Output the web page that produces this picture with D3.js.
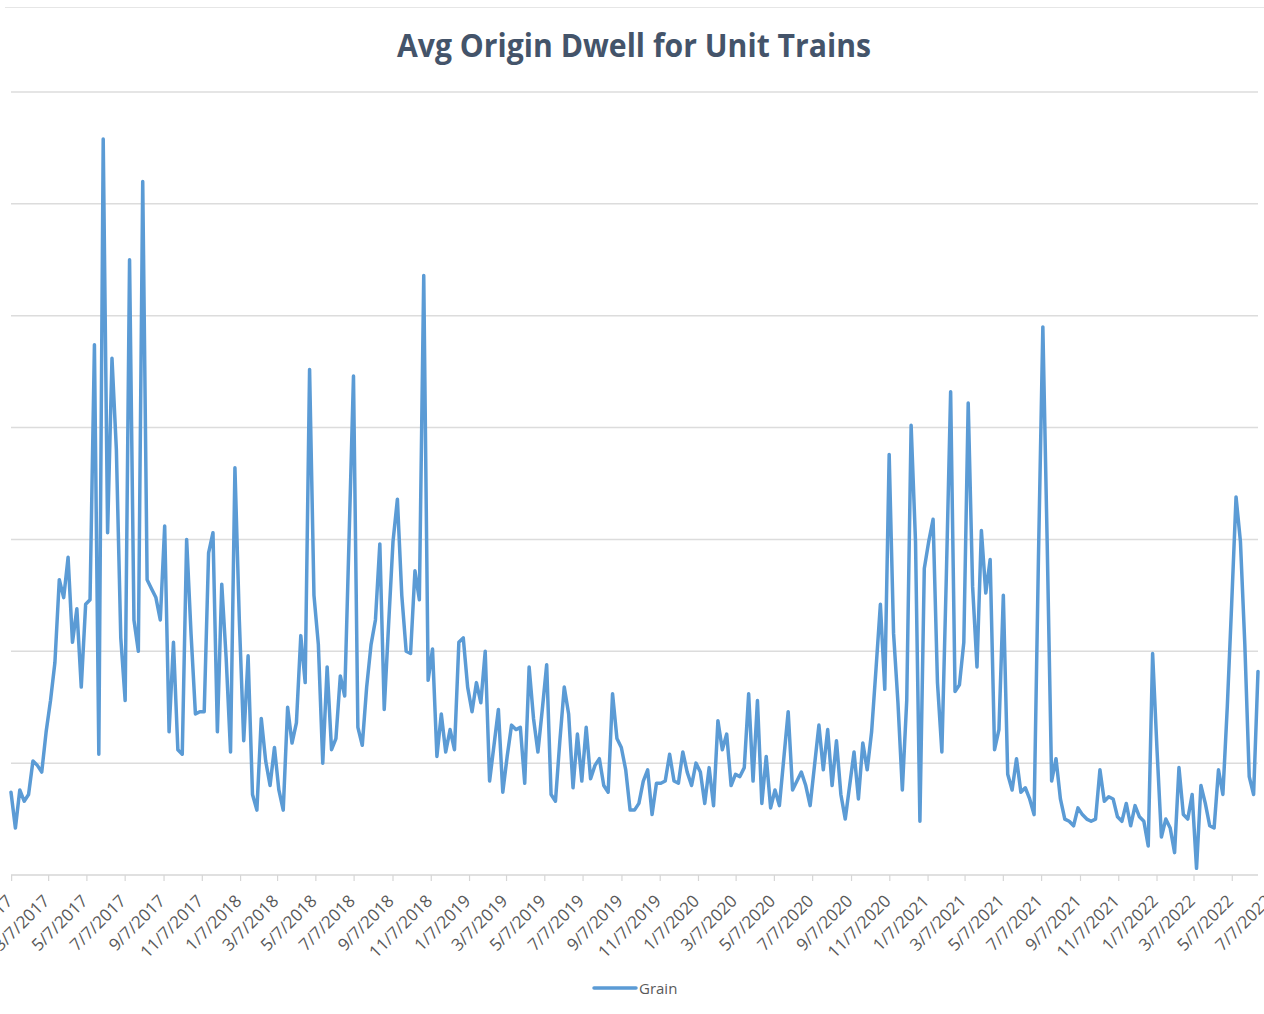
<!DOCTYPE html>
<html>
<head>
<meta charset="utf-8">
<script src="https://cdn.jsdelivr.net/npm/d3@7"></script>
<style>
  html, body { margin: 0; padding: 0; background: #ffffff; }
  svg { display: block; }
</style>
</head>
<body>
<svg id="chart" width="1264" height="1014"></svg>
<script>
// Weekly average origin dwell (hours) for grain unit trains, one value per week.
const chartTitle = "Avg Origin Dwell for Unit Trains";
const seriesName = "Grain";
const firstWeek = "1/6/2017";

const dwell2017 = [
  13.7, 12.1, 13.8, 13.3, 13.6, 15.1, 14.9, 14.6, 16.4, 17.8,
  19.5, 23.2, 22.4, 24.2, 20.4, 21.9, 18.4, 22.1, 22.3, 33.7,
  15.4, 42.9, 25.3, 33.1, 29.0, 20.6, 17.8, 37.5, 21.4, 20.0,
  41.0, 23.2, 22.8, 22.4, 21.4, 25.6, 16.4, 20.4, 15.6, 15.4,
  25.0, 20.8, 17.2, 17.3, 17.3, 24.4, 25.3, 16.4, 23.0, 19.7,
  15.5, 28.2
];
const dwell2018 = [
  21.4, 16.0, 19.8, 13.6, 12.9, 17.0, 15.1, 14.0, 15.7, 13.8,
  12.9, 17.5, 15.9, 16.8, 20.7, 18.6, 32.6, 22.5, 20.3, 15.0,
  19.3, 15.6, 16.1, 18.9, 18.0, 25.1, 32.3, 16.6, 15.8, 18.4,
  20.3, 21.4, 24.8, 17.4, 21.2, 24.9, 26.8, 22.5, 20.0, 19.9,
  23.6, 22.3, 36.8, 18.7, 20.1, 15.3, 17.2, 15.5, 16.5, 15.6,
  20.4, 20.6
];
const dwell2019 = [
  18.4, 17.3, 18.6, 17.7, 20.0, 14.2, 15.8, 17.4, 13.7, 15.3,
  16.7, 16.5, 16.6, 14.1, 19.3, 17.0, 15.5, 17.4, 19.4, 13.6,
  13.3, 16.0, 18.4, 17.2, 13.9, 16.3, 14.2, 16.6, 14.3, 14.9,
  15.2, 14.0, 13.7, 18.1, 16.1, 15.7, 14.7, 12.9, 12.9, 13.2,
  14.2, 14.7, 12.7, 14.1, 14.1, 14.2, 15.4, 14.2, 14.1, 15.5,
  14.6, 14.0
];
const dwell2020 = [
  15.0, 14.6, 13.2, 14.8, 13.1, 16.9, 15.6, 16.3, 14.0, 14.5,
  14.4, 14.8, 18.1, 14.2, 17.8, 13.2, 15.3, 13.0, 13.8, 13.1,
  15.2, 17.3, 13.8, 14.2, 14.6, 14.0, 13.1, 14.9, 16.7, 14.7,
  16.5, 14.0, 16.0, 13.6, 12.5, 14.0, 15.5, 13.4, 15.9, 14.7,
  16.4, 19.2, 22.1, 18.3, 28.8, 20.8, 17.7, 13.8, 17.8, 30.1,
  24.9, 12.4
];
const dwell2021 = [
  23.7, 24.9, 25.9, 18.6, 15.5, 23.2, 31.6, 18.2, 18.5, 20.4,
  31.1, 22.9, 19.3, 25.4, 22.6, 24.1, 15.6, 16.5, 22.5, 14.5,
  13.8, 15.2, 13.7, 13.9, 13.4, 12.7, 24.2, 34.5, 24.7, 14.2,
  15.2, 13.4, 12.5, 12.4, 12.2, 13.0, 12.7, 12.5, 12.4, 12.5,
  14.7, 13.3, 13.5, 13.4, 12.6, 12.4, 13.2, 12.2, 13.1, 12.6,
  12.4, 11.3, 19.9
];
const dwell2022 = [
  15.6, 11.7, 12.5, 12.1, 11.0, 14.8, 12.7, 12.5, 13.6, 10.3,
  14.0, 13.2, 12.2, 12.1, 14.7, 13.6, 17.5, 22.1, 26.9, 24.9,
  20.3, 14.4, 13.6, 19.1
];

const tickLabels = [
  "1/7/2017", "3/7/2017", "5/7/2017", "7/7/2017", "9/7/2017", "11/7/2017",
  "1/7/2018", "3/7/2018", "5/7/2018", "7/7/2018", "9/7/2018", "11/7/2018",
  "1/7/2019", "3/7/2019", "5/7/2019", "7/7/2019", "9/7/2019", "11/7/2019",
  "1/7/2020", "3/7/2020", "5/7/2020", "7/7/2020", "9/7/2020", "11/7/2020",
  "1/7/2021", "3/7/2021", "5/7/2021", "7/7/2021", "9/7/2021", "11/7/2021",
  "1/7/2022", "3/7/2022", "5/7/2022", "7/7/2022"
];
const gridValues = [15, 20, 25, 30, 35, 40, 45];
const yDomain = [10, 45];

// ---- build the weekly series ----
const parseDate = d3.timeParse("%m/%d/%Y");
const start = parseDate(firstWeek);
const weekly = [].concat(dwell2017, dwell2018, dwell2019, dwell2020, dwell2021, dwell2022);
const data = weekly.map((v, i) => ({ date: d3.timeDay.offset(start, 7 * i), value: v }));

// ---- layout ----
const W = 1264, H = 1014;
const plot = { left: 11, right: 1258, top: 92, bottom: 875 };

const svg = d3.select("#chart");
const FONT = "'Open Sans', 'Liberation Sans', sans-serif";

const x = d3.scaleTime()
  .domain([data[0].date, data[data.length - 1].date])
  .range([plot.left, plot.right]);
const y = d3.scaleLinear().domain(yDomain).range([plot.bottom, plot.top]);

// frame line at the top of the chart area
svg.append("line")
  .attr("x1", 5).attr("x2", W).attr("y1", 7.5).attr("y2", 7.5)
  .attr("stroke", "#e6e6e6").attr("stroke-width", 1);

// title (condensed to the chart's title width)
svg.append("text")
  .attr("x", 634).attr("y", 57)
  .attr("text-anchor", "middle")
  .attr("font-family", FONT)
  .attr("font-weight", 700)
  .attr("font-size", 33)
  .attr("textLength", 474)
  .attr("lengthAdjust", "spacingAndGlyphs")
  .attr("fill", "#44546a")
  .text(chartTitle);

// horizontal gridlines
svg.append("g").selectAll("line")
  .data(gridValues)
  .join("line")
  .attr("x1", plot.left).attr("x2", plot.right)
  .attr("y1", d => y(d)).attr("y2", d => y(d))
  .attr("stroke", "#dcdcdc").attr("stroke-width", 1.5);

// category (date) axis
const tickDates = tickLabels.map(parseDate);
const axisG = svg.append("g");
axisG.append("line")
  .attr("x1", plot.left).attr("x2", plot.right)
  .attr("y1", y(yDomain[0])).attr("y2", y(yDomain[0]))
  .attr("stroke", "#d6d6d6").attr("stroke-width", 1.5);
axisG.selectAll("line.tick")
  .data(tickDates.filter(d => x(d) <= plot.right + 0.5))
  .join("line")
  .attr("class", "tick")
  .attr("x1", d => x(d)).attr("x2", d => x(d))
  .attr("y1", y(yDomain[0])).attr("y2", y(yDomain[0]) + 6)
  .attr("stroke", "#d6d6d6").attr("stroke-width", 1.2);
axisG.selectAll("text")
  .data(tickLabels)
  .join("text")
  .attr("transform", (d, i) => `translate(${x(tickDates[i]) + 2},${y(yDomain[0]) + 27}) rotate(-45)`)
  .attr("text-anchor", "end")
  .attr("font-family", FONT)
  .attr("font-size", 17)
  .attr("fill", "#595959")
  .text(d => d);

// the series line
const line = d3.line()
  .x(d => x(d.date))
  .y(d => y(d.value));
svg.append("path")
  .datum(data)
  .attr("d", line)
  .attr("fill", "none")
  .attr("stroke", "#5b9bd5")
  .attr("stroke-width", 3.5)
  .attr("stroke-linejoin", "round")
  .attr("stroke-linecap", "round");

// legend
const lg = svg.append("g").attr("transform", "translate(594,988)");
lg.append("line")
  .attr("x1", 0).attr("x2", 42).attr("y1", 0).attr("y2", 0)
  .attr("stroke", "#5b9bd5").attr("stroke-width", 3.5).attr("stroke-linecap", "round");
lg.append("text")
  .attr("x", 45).attr("y", 6)
  .attr("font-family", FONT)
  .attr("font-size", 15)
  .attr("fill", "#595959")
  .text(seriesName);
</script>
</body>
</html>
